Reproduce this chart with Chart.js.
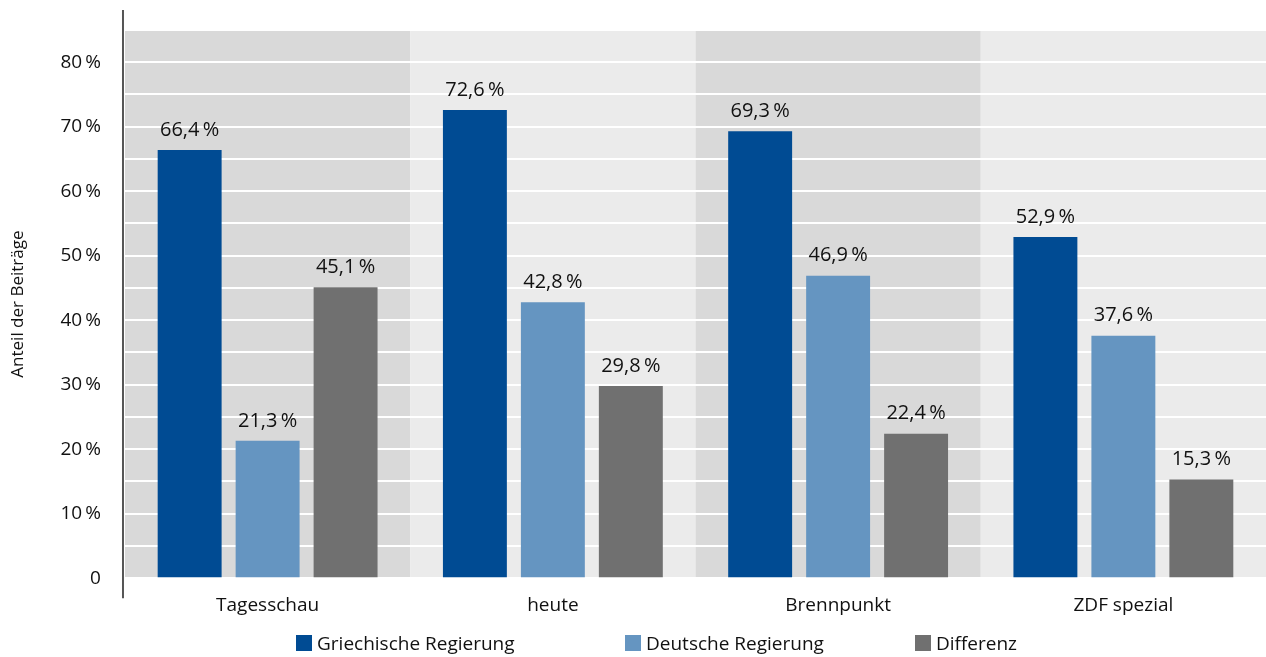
<!DOCTYPE html>
<html lang="de">
<head>
    <meta charset="UTF-8">
    <title>Anteil der Beiträge</title>
    <style>
        html, body {
            margin: 0;
            padding: 0;
            background: #fff;
            font-family: "Open Sans", sans-serif;
        }
        .wrap {
            position: relative;
            width: 1266px;
            height: 657px;
        }
        #legend {
            position: absolute;
            left: 296px;
            top: 630px;
            display: flex;
            font-size: 19px;
            color: #111;
        }
        #legend span.item {
            display: flex;
            align-items: center;
        }
        #legend span.box {
            display: inline-block;
            width: 16px;
            height: 16px;
            margin-right: 5px;
        }
    </style>
</head>
<body>
<div class="wrap">
    <canvas id="chart" width="1266" height="657"></canvas>
    <div id="legend"></div>
</div>

<script src="https://cdn.jsdelivr.net/npm/chart.js"></script>
<script>
    // categories and values (percent)
    const categories = ['Tagesschau', 'heute', 'Brennpunkt', 'ZDF spezial'];
    const seriesNames = ['Griechische Regierung', 'Deutsche Regierung', 'Differenz'];
    const griechisch = [66.4, 72.6, 69.3, 52.9];
    const deutsch = [21.3, 42.8, 46.9, 37.6];
    const differenz = [45.1, 29.8, 22.4, 15.3];
    const yTicks = [0, 10, 20, 30, 40, 50, 60, 70, 80];

    const colors = ['#004b93', '#6595c1', '#707070'];
    const bandColors = ['#d9d9d9', '#ebebeb'];
    const legendStarts = [0, 329, 619];

    const fmt = v => v.toFixed(1).replace('.', ',') + '\u2009%';

    // alternating column backgrounds behind the grid
    const bandsPlugin = {
        id: 'bands',
        beforeDraw(chart) {
            const { ctx, chartArea, scales } = chart;
            const x = scales.x;
            ctx.save();
            categories.forEach((c, i) => {
                const left = i === 0 ? chartArea.left : (x.getPixelForValue(i - 1) + x.getPixelForValue(i)) / 2;
                const right = i === categories.length - 1 ? chartArea.right : (x.getPixelForValue(i) + x.getPixelForValue(i + 1)) / 2;
                ctx.fillStyle = bandColors[i % 2];
                ctx.fillRect(left, chartArea.top, right - left, chartArea.bottom - chartArea.top);
            });
            ctx.restore();
        },
        afterDraw(chart) {
            // left axis line reaching past the plot
            const { ctx, chartArea } = chart;
            ctx.save();
            ctx.strokeStyle = '#555';
            ctx.lineWidth = 2;
            ctx.beginPath();
            ctx.moveTo(chartArea.left - 2, 10);
            ctx.lineTo(chartArea.left - 2, chartArea.bottom + 20);
            ctx.stroke();
            ctx.restore();
        }
    };

    // value labels above each bar
    const valueLabels = {
        id: 'valueLabels',
        afterDatasetsDraw(chart) {
            const { ctx } = chart;
            ctx.save();
            ctx.font = '20px "Open Sans"';
            ctx.fillStyle = '#111';
            ctx.textAlign = 'center';
            ctx.textBaseline = 'bottom';
            chart.data.datasets.forEach((ds, di) => {
                chart.getDatasetMeta(di).data.forEach((bar, i) => {
                    ctx.fillText(fmt(ds.data[i]), bar.x, bar.y - 10);
                });
            });
            ctx.restore();
        }
    };

    const ctx = document.getElementById('chart').getContext('2d');
    const chart = new Chart(ctx, {
        type: 'bar',
        data: {
            labels: categories,
            datasets: [
                { label: seriesNames[0], data: griechisch, backgroundColor: colors[0] },
                { label: seriesNames[1], data: deutsch, backgroundColor: colors[1] },
                { label: seriesNames[2], data: differenz, backgroundColor: colors[2] }
            ]
        },
        options: {
            responsive: false,
            animation: false,
            categoryPercentage: 0.82,
            barPercentage: 0.82,
            layout: {
                padding: { top: 30, right: 0, bottom: 32, left: 8 }
            },
            plugins: {
                legend: { display: false },
                tooltip: { enabled: false }
            },
            scales: {
                x: {
                    grid: { display: false },
                    border: { display: false },
                    ticks: {
                        color: '#111',
                        font: { family: 'Open Sans', size: 19 },
                        padding: 8
                    }
                },
                y: {
                    min: 0,
                    max: 85,
                    afterBuildTicks(scale) {
                        const t = [];
                        for (let v = 0; v <= 85; v += 5) t.push({ value: v });
                        scale.ticks = t;
                    },
                    afterFit(scale) {
                        scale.paddingTop = 0;
                    },
                    grid: {
                        color: '#ffffff',
                        lineWidth: 2,
                        drawTicks: false
                    },
                    border: { display: false },
                    ticks: {
                        color: '#111',
                        font: { family: 'Open Sans', size: 19 },
                        padding: 24,
                        callback: v => yTicks.includes(v) ? (v === 0 ? '0' : v + '\u2009%') : ''
                    },
                    title: {
                        display: true,
                        text: 'Anteil der Beiträge',
                        color: '#111',
                        font: { family: 'Open Sans', size: 17 },
                        padding: { top: 0, bottom: 8 }
                    }
                }
            }
        },
        plugins: [bandsPlugin, valueLabels]
    });

    // legend built from the datasets
    const legend = document.getElementById('legend');
    chart.data.datasets.forEach((ds, i) => {
        const item = document.createElement('span');
        item.className = 'item';
        item.style.position = 'absolute';
        item.style.left = legendStarts[i] + 'px';
        item.style.whiteSpace = 'nowrap';
        item.innerHTML = '<span class="box" style="background:' + ds.backgroundColor + '"></span>' + ds.label;
        legend.appendChild(item);
    });
</script>
</body>
</html>
